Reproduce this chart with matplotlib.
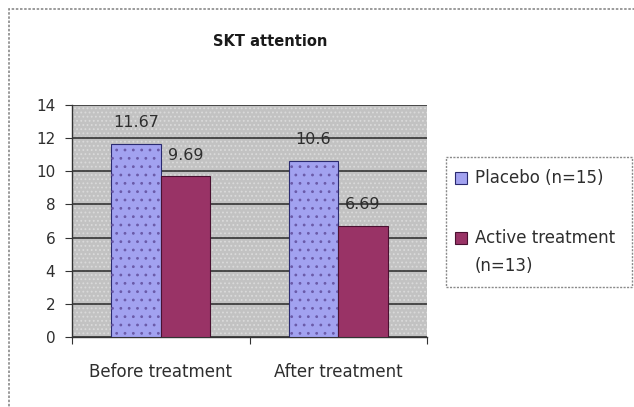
import matplotlib
matplotlib.use("Agg")
import matplotlib.pyplot as plt
from matplotlib.patches import Rectangle
import numpy as np

plt.rcParams['font.family'] = ['DejaVu Sans']
plt.rcParams['hatch.linewidth'] = 0.8

categories = ["Before treatment", "After treatment"]
series_names = ["Placebo (n=15)", "Active treatment\n(n=13)"]
placebo = [11.67, 10.6]
active = [9.69, 6.69]
value_labels = [["11.67", "10.6"], ["9.69", "6.69"]]
y_ticks = [0, 2, 4, 6, 8, 10, 12, 14]

W, H = 634, 407
TXT = '#2e2e2e'
fig = plt.figure(figsize=(W / 100, H / 100), dpi=100)

# dashed outer chart-area border (runs off the right/bottom edges)
fig.patches.append(Rectangle((9 / W, -0.05), 1.2, 1 - 9 / H + 0.05,
                             transform=fig.transFigure, fill=False,
                             edgecolor='#8a8a8a', linestyle=(0, (1.5, 1)),
                             linewidth=1.2))

ax = fig.add_axes([72 / W, 70 / H, 355 / W, 232 / H])
ax.set_facecolor('#c2c2c2')
# dotted texture of the plot area
ax.add_patch(Rectangle((0, 0), 1, 1, transform=ax.transAxes, fill=False,
                       hatch='....', edgecolor='#dadada', linewidth=0, zorder=0))

x = np.arange(len(categories))
bw = 0.28
colors = ['#a2a2f0', '#993366']
edges = ['#2a2a70', '#4a1030']
dots = ['#6a5aa8', None]
for i, (vals, col, ec) in enumerate(zip([placebo, active], colors, edges)):
    pos = x - bw / 2 + i * bw
    ax.bar(pos, vals, width=bw, color=col, edgecolor=ec, linewidth=0.8,
           label=series_names[i], zorder=3)
    if dots[i]:
        ax.bar(pos, vals, width=bw, fill=False, hatch='..',
               edgecolor=dots[i], linewidth=0, zorder=4)
    for p, v, lab in zip(pos, vals, value_labels[i]):
        ax.annotate(lab, (p, v), xytext=(0, 10), textcoords='offset points',
                    ha='center', va='bottom', fontsize=11.5, color=TXT,
                    zorder=5)

ax.set_ylim(0, 14)
ax.set_xlim(-0.5, 1.5)
ax.set_yticks(y_ticks)
ax.set_yticklabels([str(t) for t in y_ticks], fontsize=11, color=TXT)
ax.yaxis.grid(True, color='#333333', linewidth=1.2, zorder=1)
ax.set_axisbelow(True)

ax.set_xticks([-0.5, 0.5, 1.5])
ax.set_xticklabels([])
ax.set_xticks(x, minor=True)
ax.set_xticklabels(categories, minor=True, fontsize=12, color=TXT)
ax.tick_params(axis='x', which='minor', length=0, pad=19)
ax.tick_params(axis='x', which='major', length=5, direction='out',
               color='#333333')
ax.tick_params(axis='y', length=5, direction='out', color='#333333', pad=7)

for s in ['top', 'right']:
    ax.spines[s].set_visible(False)
for s in ['left', 'bottom']:
    ax.spines[s].set_color('#333333')
    ax.spines[s].set_linewidth(1.0)

fig.text(270 / W, 1 - 41 / H, "SKT attention", ha='center', va='center',
         fontsize=10.5, fontweight='bold', color='#1a1a1a')

# legend box with square keys
fig.patches.append(Rectangle((446 / W, 1 - 287 / H), 186 / W, 130 / H,
                             transform=fig.transFigure, facecolor='white',
                             edgecolor='#8a8a8a', linestyle=(0, (1.5, 1)),
                             linewidth=1.0))
key_y = [178, 238]
for name, col, ec, d, ky in zip(series_names, colors, edges, dots, key_y):
    fig.patches.append(Rectangle((455 / W, 1 - (ky + 6) / H), 12 / W, 12 / H,
                                 transform=fig.transFigure, facecolor=col,
                                 edgecolor=ec, linewidth=0.8))
    fig.text(475 / W, 1 - (ky - 9) / H, name, ha='left', va='top',
             fontsize=12, color=TXT, linespacing=1.7)

fig.savefig("out.png", dpi=100)
